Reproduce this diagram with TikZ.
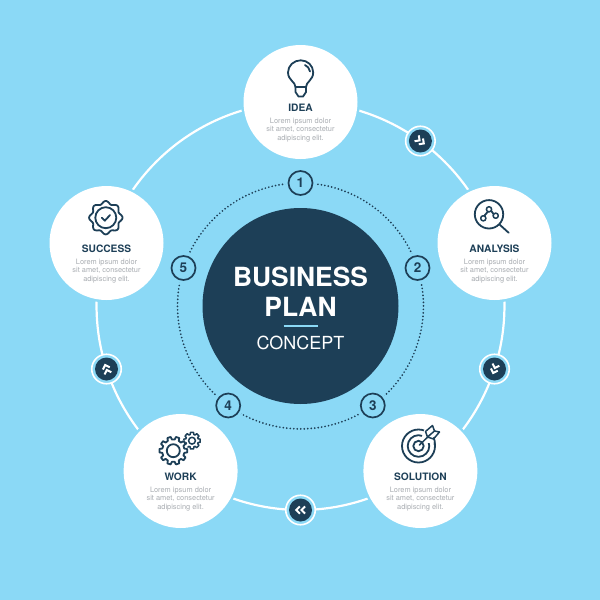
\documentclass[tikz,border=0pt]{standalone}
\usepackage{fontspec}
\setmainfont{TeX Gyre Heros}
\usetikzlibrary{backgrounds}
\definecolor{sky}{HTML}{8BD9F6}
\definecolor{ink}{HTML}{1D3F57}
\definecolor{lorem}{HTML}{A9ADB2}
\tikzset{
  x=1pt,y=-1pt,
  every node/.style={inner sep=0pt,outer sep=0pt},
  stage/.style={circle,fill=white,minimum size=114pt,preaction={draw=sky,line width=5pt}},
  hub/.style={circle,fill=ink,minimum size=196pt},
  ringnode/.style={circle,draw=white,line width=1.6pt,fill=sky,minimum size=29.5pt},
  disc/.style={circle,fill=ink,minimum size=23pt},
  numnode/.style={circle,draw=ink,line width=1.7pt,fill=sky,minimum size=24pt,
    preaction={draw=sky,line width=7pt},font=\fontsize{13.5}{14}\selectfont\bfseries,text=ink},
  title/.style={font=\fontsize{10.2}{12}\selectfont\bfseries,text=ink,anchor=center},
  body/.style={font=\fontsize{7.4}{8.5}\selectfont,text=lorem,align=center,anchor=center},
  ringline/.style={draw=white,line width=2.2pt},
  dotline/.style={draw=ink,line width=1.9pt,line cap=round,dash pattern=on 0pt off 3.5pt},
  icon/.style={draw=ink,line width=1.8pt,line join=round,line cap=round},
  thinicon/.style={icon,line width=1.5pt},
  chev/.style={draw=white,line width=2pt,line join=miter},
  short/.style={bend left=18,looseness=.873},
  long/.style={bend left=36,looseness=.941}
}
\begin{document}
\begin{tikzpicture}
\useasboundingbox (0,0) rectangle (600,600);

% main circles
\node[hub] (hub) at (300.5,306) {};
\node[stage] (idea) at (300.5,102) {};
\node[stage] (analysis) at (494.5,243) {};
\node[stage] (solution) at (420.4,471) {};
\node[stage] (work) at (180.6,471) {};
\node[stage] (success) at (106.5,243) {};

% ring markers
\node[ringnode] (m1) at (420.4,141) {};
\node[ringnode] (m2) at (494.5,369) {};
\node[ringnode] (m3) at (300.5,510) {};
\node[ringnode] (m4) at (106.5,369) {};
\node[disc] (d1) at (m1) {};
\node[disc] (d2) at (m2) {};
\node[disc] (d3) at (m3) {};
\node[disc] (d4) at (m4) {};

% number circles
\node[numnode] (n1) at (300.5,183) {1};
\node[numnode] (n2) at (417.5,268) {2};
\node[numnode] (n3) at (372.8,405.5) {3};
\node[numnode] (n4) at (228.2,405.5) {4};
\node[numnode] (n5) at (183.5,268) {5};

\begin{pgfonlayer}{background}
  \fill[sky] (0,0) rectangle (600,600);
  \draw[ringline] (idea.center) to[short] (m1.center);
  \draw[ringline] (m1.center) to[short] (analysis.center);
  \draw[ringline] (analysis.center) to[short] (m2.center);
  \draw[ringline] (m2.center) to[short] (solution.center);
  \draw[ringline] (solution.center) to[short] (m3.center);
  \draw[ringline] (m3.center) to[short] (work.center);
  \draw[ringline] (work.center) to[short] (m4.center);
  \draw[ringline] (m4.center) to[short] (success.center);
  \draw[ringline] (success.center) to[long] (idea.center);
  \draw[dotline] (n1.center) to[long] (n2.center);
  \draw[dotline] (n2.center) to[long] (n3.center);
  \draw[dotline] (n3.center) to[long] (n4.center);
  \draw[dotline] (n4.center) to[long] (n5.center);
  \draw[dotline] (n5.center) to[long] (n1.center);
\end{pgfonlayer}

% chevrons
\foreach \n/\r in {d1/-36,d2/-108,d3/-180,d4/108}{
  \begin{scope}[shift={(\n)},rotate=\r]
    \draw[chev] (-4.6,-3.6) -- (-1,0) -- (-4.6,3.6);
    \draw[chev] (0.6,-3.6) -- (4.2,0) -- (0.6,3.6);
  \end{scope}
}

% centre text
\node[font=\fontsize{26.4}{30}\selectfont\bfseries,text=white] (tbiz) at (300.5,276.5) {BUSINESS};
\node[font=\fontsize{26.4}{30}\selectfont\bfseries,text=white] (tplan) at (300.5,306.5) {PLAN};
\node[font=\fontsize{18}{22}\selectfont,text=white] (tcon) at (300.5,342.5) {CONCEPT};
\draw[sky,line width=1.6pt] (283.5,325.7) -- (317.5,325.7);

% labels
\node[title] (t1) at (300.5,107.7) {IDEA};
\node[body] (b1) at (300.5,130) {Lorem ipsum dolor\\sit amet, consectetur\\adipiscing elit.};
\node[title] (t2) at (494.5,248.5) {ANALYSIS};
\node[body] (b2) at (494.5,271) {Lorem ipsum dolor\\sit amet, consectetur\\adipiscing elit.};
\node[title] (t3) at (420.4,476.5) {SOLUTION};
\node[body] (b3) at (420.4,499) {Lorem ipsum dolor\\sit amet, consectetur\\adipiscing elit.};
\node[title] (t4) at (180.6,476.5) {WORK};
\node[body] (b4) at (180.6,499) {Lorem ipsum dolor\\sit amet, consectetur\\adipiscing elit.};
\node[title] (t5) at (106.5,248.5) {SUCCESS};
\node[body] (b5) at (106.5,271) {Lorem ipsum dolor\\sit amet, consectetur\\adipiscing elit.};

% bulb icon
\draw[icon] (295.5,87) .. controls (295.5,82) and (288,80) .. (288,72.5)
  .. controls (288,65.5) and (294,60.3) .. (300.7,60.3)
  .. controls (307.5,60.3) and (313.2,65.5) .. (313.2,72.5)
  .. controls (313.2,80) and (306,82) .. (306,87) -- cycle;
\draw[icon] (295.5,87) -- (295.5,92) -- (298.5,96.5) -- (303,96.5) -- (306,92) -- (306,87);
\draw[icon] (305,65) .. controls (307.5,66) and (309.5,68.5) .. (310,71.5);

% magnifier icon
\draw[icon] (489,214.3) circle[radius=14.2];
\draw[icon] (499.5,224.5) -- (508.7,232.8);
\draw[icon] (484.3,215.8) -- (487.9,211.6);
\draw[icon] (491.2,210.8) -- (493.6,214.2);
\draw[thinicon] (483.3,218.3) circle[radius=2.6];
\draw[thinicon] (489,209.3) circle[radius=2.6];
\draw[thinicon] (495.7,215.7) circle[radius=2.6];

% target icon
\draw[icon] (418.5,446) circle[radius=16.5];
\draw[icon] (418.5,446) circle[radius=10.8];
\draw[icon] (418.5,446) circle[radius=5.2];
\fill[white] (421,439) -- (425,428) -- (441,424) -- (441,442) -- (427,443) -- cycle;
\draw[icon] (434.9,445) .. controls (435,442) and (434.6,440) .. (433.8,438);
\draw[thinicon] (419.5,445) -- (430,434.8);
\draw[thinicon] (427.5,437) -- (425.5,431.5) -- (432.5,425.5) -- (434.5,431) -- (439.5,432) -- (433.5,439) -- cycle;
\draw[thinicon] (430,434.8) -- (434.5,431);

% gears
\begin{scope}[shift={(192,440.7)}]
  \draw[thinicon] \foreach \a in {0,45,...,315}{
     (\a-11:8.4) -- (\a+11:8.4) -- (\a+17:6.4) -- (\a+28:6.4) -- (\a+34:8.4)
  } ;
  \draw[thinicon] (0,0) circle[radius=3.4];
\end{scope}
\begin{scope}[shift={(173.3,450.7)}]
  \fill[white] (0,0) circle[radius=14.5];
  \draw[icon] \foreach \a in {0,36,...,324}{
     (\a-7:14) -- (\a+7:14) -- (\a+11:11.2) -- (\a+25:11.2) -- (\a+29:14)
  };
  \draw[icon] (0,0) circle[radius=6.5];
\end{scope}

% badge
\begin{scope}[shift={(105.8,217.7)}]
  \draw[icon] plot[domain=0:360,samples=121,smooth] (\x:{15.3+1.4*cos(8*\x)}) -- cycle;
  \draw[icon] (0,0) circle[radius=10.5];
  \draw[icon] (-4,0) -- (-1,3) -- (4.2,-2.6);
\end{scope}
\end{tikzpicture}
\end{document}
